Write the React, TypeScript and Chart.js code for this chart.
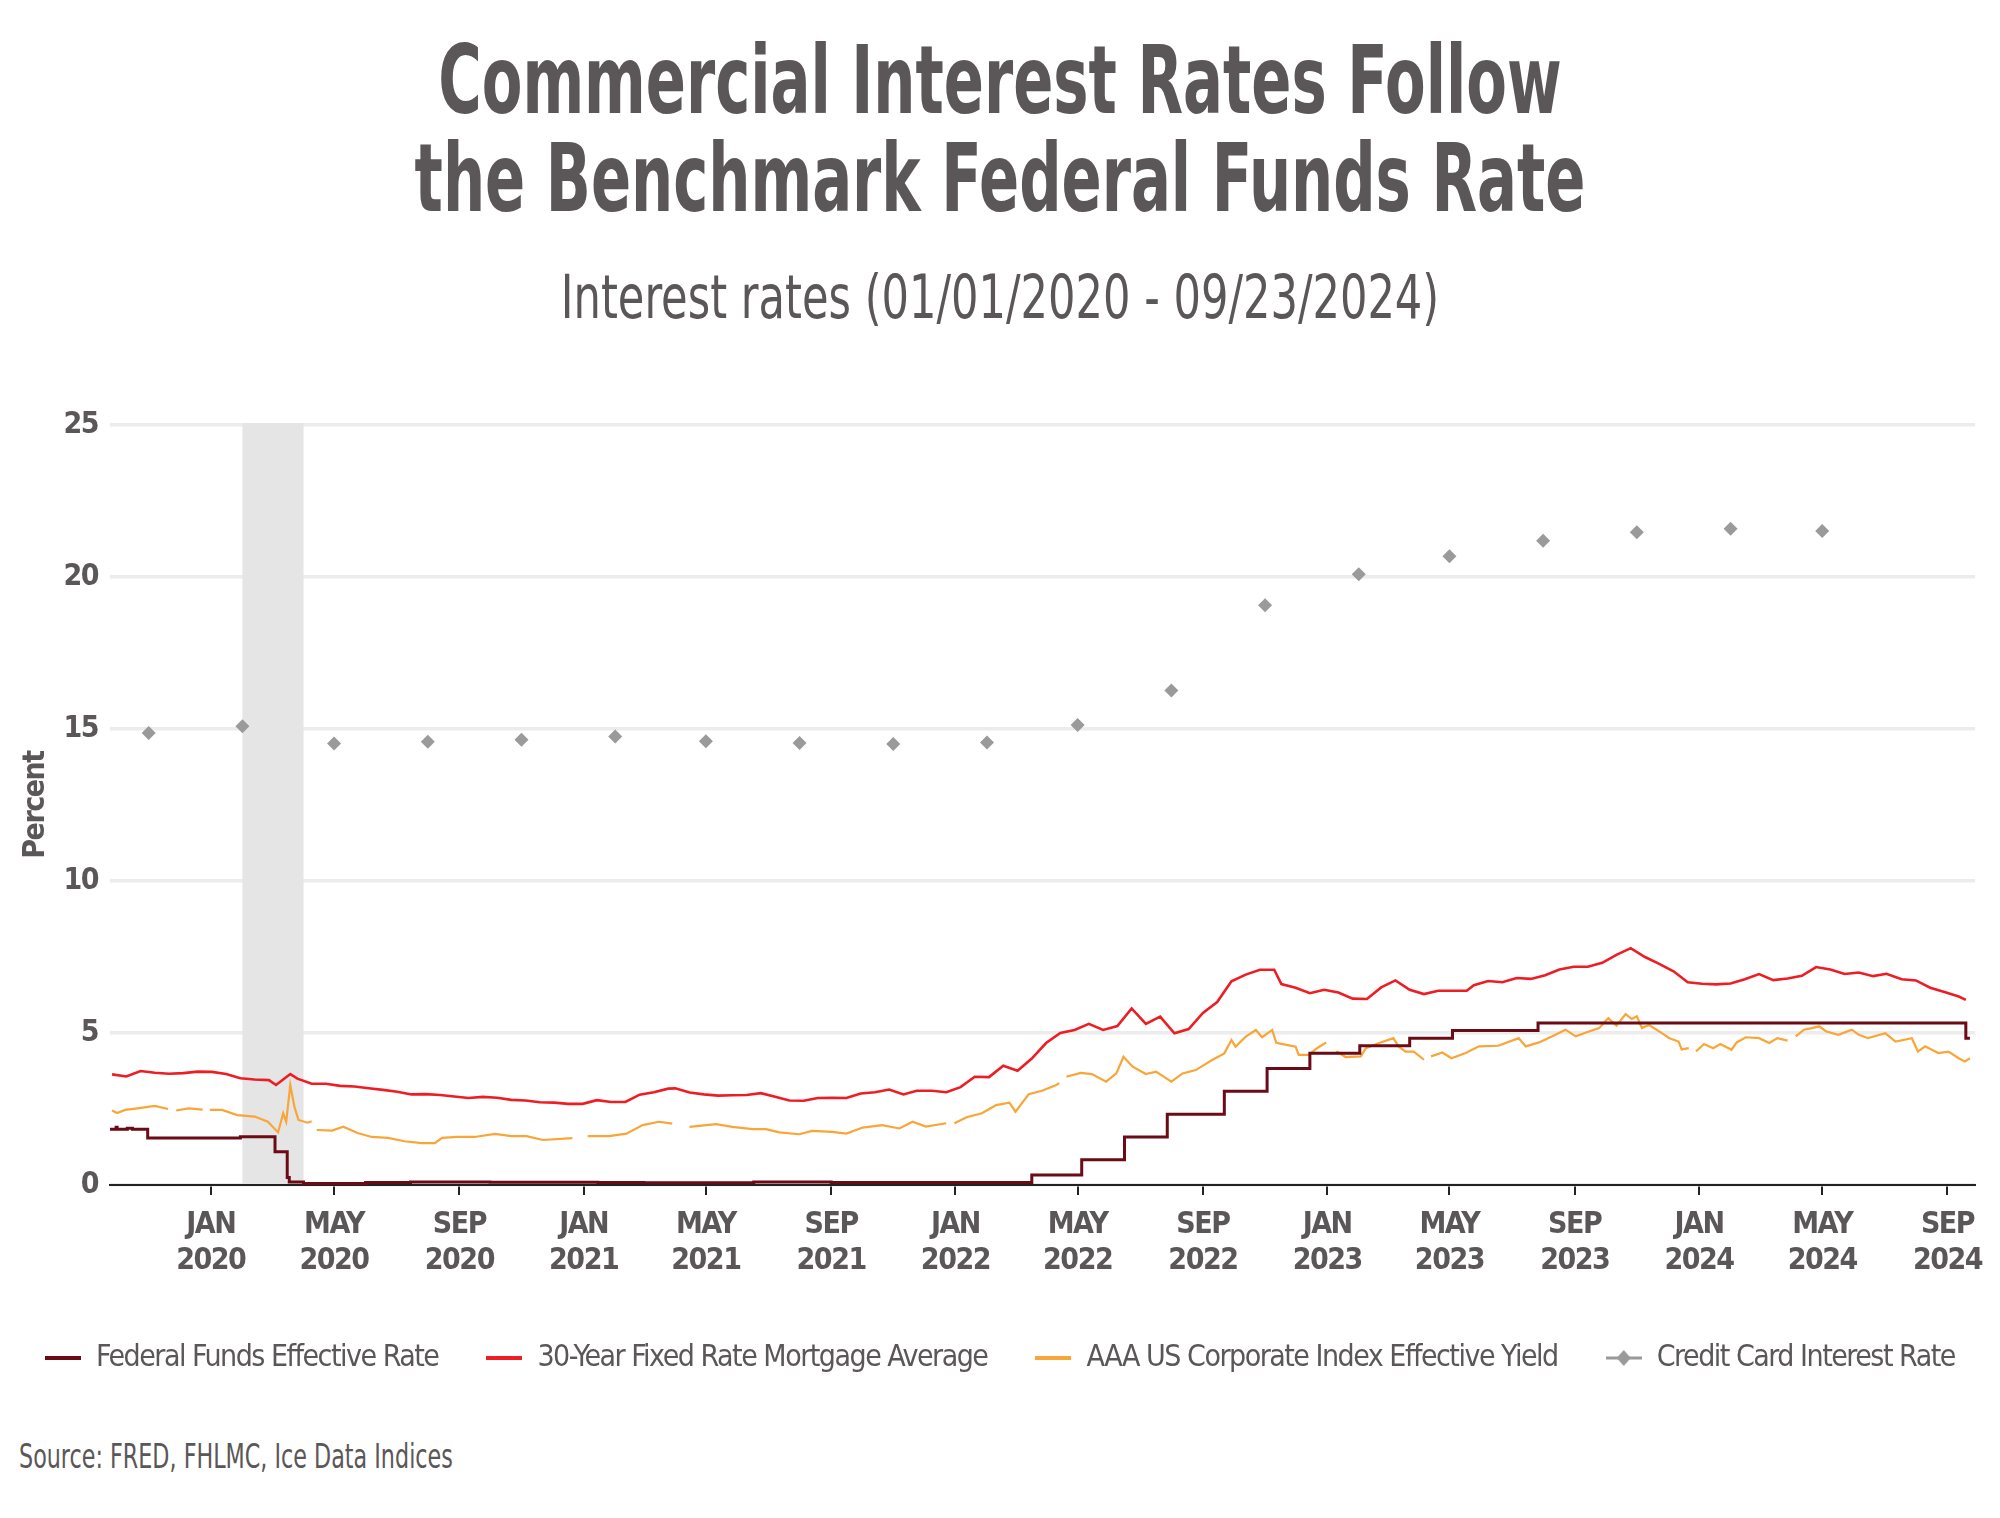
import { useEffect, useRef } from "react";
import { Chart, registerables } from "chart.js";

Chart.register(...registerables);

const NARROW = '"DejaVu Sans Condensed", "DejaVu Sans", sans-serif';
const TEXT = "#5b5758";

// x axis range and ticks
const xStart = "2019-09-24";
const xEnd = "2024-09-28";
const tickDates = [
  "2020-01-01", "2020-05-01", "2020-09-01", "2021-01-01", "2021-05-01", "2021-09-01",
  "2022-01-01", "2022-05-01", "2022-09-01", "2023-01-01", "2023-05-01", "2023-09-01",
  "2024-01-01", "2024-05-01", "2024-09-01",
];
const MONTHS = ["JAN", "FEB", "MAR", "APR", "MAY", "JUN", "JUL", "AUG", "SEP", "OCT", "NOV", "DEC"];
const recession = ["2020-02-01", "2020-04-01"];

// Federal funds effective rate (value holds from the date on)
const fedFunds: [string, number][] = [
  ["2019-09-24", 1.83], ["2019-09-30", 1.9], ["2019-10-01", 1.83], ["2019-10-11", 1.87], ["2019-10-16", 1.83],
  ["2019-10-31", 1.55], ["2020-01-30", 1.59], ["2020-03-04", 1.09], ["2020-03-16", 0.25], ["2020-03-18", 0.1],
  ["2020-04-01", 0.05], ["2020-06-01", 0.08], ["2020-07-15", 0.1], ["2020-10-01", 0.09], ["2021-01-15", 0.08],
  ["2021-03-01", 0.07], ["2021-06-17", 0.1], ["2021-09-01", 0.08], ["2022-03-17", 0.33], ["2022-05-05", 0.83],
  ["2022-06-16", 1.58], ["2022-07-28", 2.33], ["2022-09-22", 3.08], ["2022-11-03", 3.83], ["2022-12-15", 4.33],
  ["2023-02-02", 4.58], ["2023-03-23", 4.83], ["2023-05-04", 5.08], ["2023-07-27", 5.33], ["2024-09-19", 4.83],
  ["2024-09-23", 4.83],
];

// 30-year fixed mortgage average
const mortgage: [string, number][] = [
  ["2019-09-26", 3.64], ["2019-10-10", 3.57], ["2019-10-24", 3.75], ["2019-11-07", 3.69], ["2019-11-21", 3.66],
  ["2019-12-05", 3.68], ["2019-12-19", 3.73], ["2020-01-02", 3.72], ["2020-01-16", 3.65], ["2020-01-30", 3.51],
  ["2020-02-13", 3.47], ["2020-02-27", 3.45], ["2020-03-05", 3.29], ["2020-03-19", 3.65], ["2020-03-26", 3.5],
  ["2020-04-09", 3.33], ["2020-04-23", 3.33], ["2020-05-07", 3.26], ["2020-05-21", 3.24], ["2020-06-04", 3.18],
  ["2020-06-18", 3.13], ["2020-07-02", 3.07], ["2020-07-16", 2.98], ["2020-07-30", 2.99], ["2020-08-13", 2.96],
  ["2020-08-27", 2.91], ["2020-09-10", 2.86], ["2020-09-24", 2.9], ["2020-10-08", 2.87], ["2020-10-22", 2.8],
  ["2020-11-05", 2.78], ["2020-11-19", 2.72], ["2020-12-03", 2.71], ["2020-12-17", 2.67], ["2020-12-31", 2.67],
  ["2021-01-14", 2.79], ["2021-01-28", 2.73], ["2021-02-11", 2.73], ["2021-02-25", 2.97], ["2021-03-11", 3.05],
  ["2021-03-25", 3.17], ["2021-04-01", 3.18], ["2021-04-15", 3.04], ["2021-04-29", 2.98], ["2021-05-13", 2.94],
  ["2021-05-27", 2.95], ["2021-06-10", 2.96], ["2021-06-24", 3.02], ["2021-07-08", 2.9], ["2021-07-22", 2.78],
  ["2021-08-05", 2.77], ["2021-08-19", 2.86], ["2021-09-02", 2.87], ["2021-09-16", 2.86], ["2021-09-30", 3.01],
  ["2021-10-14", 3.05], ["2021-10-28", 3.14], ["2021-11-11", 2.98], ["2021-11-24", 3.1], ["2021-12-09", 3.1],
  ["2021-12-23", 3.05], ["2022-01-06", 3.22], ["2022-01-20", 3.56], ["2022-02-03", 3.55], ["2022-02-17", 3.92],
  ["2022-03-03", 3.76], ["2022-03-17", 4.16], ["2022-03-31", 4.67], ["2022-04-14", 5.0], ["2022-04-28", 5.1],
  ["2022-05-12", 5.3], ["2022-05-26", 5.1], ["2022-06-09", 5.23], ["2022-06-23", 5.81], ["2022-07-07", 5.3],
  ["2022-07-21", 5.54], ["2022-08-04", 4.99], ["2022-08-18", 5.13], ["2022-09-01", 5.66], ["2022-09-15", 6.02],
  ["2022-09-29", 6.7], ["2022-10-13", 6.92], ["2022-10-27", 7.08], ["2022-11-10", 7.08], ["2022-11-17", 6.61],
  ["2022-12-01", 6.49], ["2022-12-15", 6.31], ["2022-12-29", 6.42], ["2023-01-12", 6.33], ["2023-01-26", 6.13],
  ["2023-02-09", 6.12], ["2023-02-23", 6.5], ["2023-03-09", 6.73], ["2023-03-23", 6.42], ["2023-04-06", 6.28],
  ["2023-04-20", 6.39], ["2023-05-04", 6.39], ["2023-05-18", 6.39], ["2023-05-25", 6.57], ["2023-06-08", 6.71],
  ["2023-06-22", 6.67], ["2023-07-06", 6.81], ["2023-07-20", 6.78], ["2023-08-03", 6.9], ["2023-08-17", 7.09],
  ["2023-08-31", 7.18], ["2023-09-14", 7.18], ["2023-09-28", 7.31], ["2023-10-12", 7.57], ["2023-10-26", 7.79],
  ["2023-11-09", 7.5], ["2023-11-22", 7.29], ["2023-12-07", 7.03], ["2023-12-21", 6.67], ["2024-01-04", 6.62],
  ["2024-01-18", 6.6], ["2024-02-01", 6.63], ["2024-02-15", 6.77], ["2024-02-29", 6.94], ["2024-03-14", 6.74],
  ["2024-03-28", 6.79], ["2024-04-11", 6.88], ["2024-04-25", 7.17], ["2024-05-09", 7.09], ["2024-05-23", 6.94],
  ["2024-06-06", 6.99], ["2024-06-20", 6.87], ["2024-07-03", 6.95], ["2024-07-18", 6.77], ["2024-08-01", 6.73],
  ["2024-08-15", 6.49], ["2024-08-29", 6.35], ["2024-09-12", 6.2], ["2024-09-19", 6.09],
];

// AAA US corporate index effective yield (null = missing days)
const aaaYield: [string, number | null][] = [
  ["2019-09-26", 2.45], ["2019-10-01", 2.37], ["2019-10-09", 2.47], ["2019-10-21", 2.52], ["2019-11-07", 2.6],
  ["2019-11-20", 2.5], ["2019-11-24", null], ["2019-11-28", 2.45], ["2019-12-10", 2.52], ["2019-12-24", 2.48],
  ["2019-12-27", null], ["2019-12-31", 2.47], ["2020-01-12", 2.47], ["2020-01-27", 2.3], ["2020-02-13", 2.25],
  ["2020-02-26", 2.08], ["2020-03-07", 1.73], ["2020-03-12", 2.36], ["2020-03-15", 2.08], ["2020-03-19", 3.29],
  ["2020-03-23", 2.58], ["2020-03-27", 2.14], ["2020-04-05", 2.05], ["2020-04-09", 2.1], ["2020-04-10", null],
  ["2020-04-14", 1.81], ["2020-04-29", 1.79], ["2020-05-10", 1.92], ["2020-05-24", 1.71], ["2020-06-07", 1.58],
  ["2020-06-23", 1.55], ["2020-07-09", 1.44], ["2020-07-26", 1.38], ["2020-08-08", 1.38], ["2020-08-15", 1.55],
  ["2020-08-30", 1.58], ["2020-09-16", 1.58], ["2020-10-06", 1.68], ["2020-10-22", 1.61], ["2020-11-06", 1.61],
  ["2020-11-22", 1.48], ["2020-12-21", 1.54], ["2020-12-26", null], ["2021-01-05", 1.61], ["2021-01-26", 1.61],
  ["2021-02-12", 1.69], ["2021-02-28", 1.97], ["2021-03-16", 2.08], ["2021-03-29", 2.02], ["2021-04-02", null],
  ["2021-04-15", 1.91], ["2021-05-11", 2.0], ["2021-05-27", 1.91], ["2021-06-16", 1.84], ["2021-06-29", 1.84],
  ["2021-07-12", 1.73], ["2021-08-01", 1.67], ["2021-08-13", 1.78], ["2021-09-02", 1.75], ["2021-09-16", 1.69],
  ["2021-10-02", 1.89], ["2021-10-21", 1.97], ["2021-11-07", 1.86], ["2021-11-20", 2.08], ["2021-12-03", 1.92],
  ["2021-12-23", 2.03], ["2021-12-27", null], ["2021-12-31", 2.03], ["2022-01-12", 2.23], ["2022-01-27", 2.36],
  ["2022-02-10", 2.63], ["2022-02-23", 2.71], ["2022-03-01", 2.41], ["2022-03-14", 2.99], ["2022-03-27", 3.1],
  ["2022-04-10", 3.29], ["2022-04-13", 3.35], ["2022-04-15", null], ["2022-04-20", 3.56], ["2022-05-04", 3.69],
  ["2022-05-15", 3.65], ["2022-05-29", 3.4], ["2022-06-08", 3.67], ["2022-06-15", 4.22], ["2022-06-24", 3.89],
  ["2022-07-07", 3.65], ["2022-07-17", 3.73], ["2022-08-01", 3.4], ["2022-08-12", 3.67], ["2022-08-25", 3.78],
  ["2022-09-10", 4.11], ["2022-09-22", 4.33], ["2022-09-29", 4.77], ["2022-10-03", 4.55], ["2022-10-13", 4.88],
  ["2022-10-23", 5.1], ["2022-10-29", 4.86], ["2022-11-08", 5.1], ["2022-11-12", 4.68], ["2022-11-22", 4.61],
  ["2022-12-01", 4.55], ["2022-12-04", 4.28], ["2022-12-14", 4.28], ["2022-12-22", 4.5], ["2022-12-31", 4.69],
  ["2023-01-02", null], ["2023-01-10", 4.4], ["2023-01-19", 4.21], ["2023-02-03", 4.23], ["2023-02-08", 4.5],
  ["2023-02-21", 4.67], ["2023-03-07", 4.83], ["2023-03-12", 4.56], ["2023-03-19", 4.39], ["2023-03-27", 4.39],
  ["2023-04-06", 4.12], ["2023-04-07", null], ["2023-04-13", 4.23], ["2023-04-24", 4.36], ["2023-05-03", 4.17],
  ["2023-05-17", 4.34], ["2023-05-30", 4.56], ["2023-06-18", 4.58], ["2023-07-08", 4.83], ["2023-07-15", 4.56],
  ["2023-07-28", 4.69], ["2023-08-10", 4.89], ["2023-08-23", 5.11], ["2023-09-02", 4.89], ["2023-09-15", 5.05],
  ["2023-09-25", 5.16], ["2023-10-04", 5.49], ["2023-10-12", 5.24], ["2023-10-21", 5.62], ["2023-10-27", 5.46],
  ["2023-11-01", 5.55], ["2023-11-06", 5.16], ["2023-11-13", 5.26], ["2023-11-26", 4.99], ["2023-12-03", 4.83],
  ["2023-12-12", 4.72], ["2023-12-15", 4.46], ["2023-12-22", 4.5], ["2023-12-25", null], ["2023-12-29", 4.39],
  ["2024-01-06", 4.64], ["2024-01-15", 4.5], ["2024-01-22", 4.64], ["2024-02-02", 4.45], ["2024-02-07", 4.69],
  ["2024-02-16", 4.86], ["2024-02-29", 4.83], ["2024-03-10", 4.67], ["2024-03-18", 4.83], ["2024-03-28", 4.75],
  ["2024-03-31", null], ["2024-04-05", 4.89], ["2024-04-13", 5.11], ["2024-04-21", 5.16], ["2024-04-28", 5.22],
  ["2024-05-05", 5.05], ["2024-05-17", 4.94], ["2024-05-30", 5.11], ["2024-06-06", 4.94], ["2024-06-15", 4.83],
  ["2024-07-02", 4.99], ["2024-07-12", 4.72], ["2024-07-28", 4.83], ["2024-08-03", 4.39], ["2024-08-10", 4.56],
  ["2024-08-23", 4.34], ["2024-09-02", 4.39], ["2024-09-12", 4.17], ["2024-09-18", 4.06], ["2024-09-23", 4.17],
];

// credit card interest rate, quarterly
const creditCard: [string, number][] = [
  ["2019-11-01", 14.87], ["2020-02-01", 15.09], ["2020-05-01", 14.52], ["2020-08-01", 14.58], ["2020-11-01", 14.65],
  ["2021-02-01", 14.75], ["2021-05-01", 14.6], ["2021-08-01", 14.54], ["2021-11-01", 14.51], ["2022-02-01", 14.56],
  ["2022-05-01", 15.13], ["2022-08-01", 16.27], ["2022-11-01", 19.07], ["2023-02-01", 20.09], ["2023-05-01", 20.68],
  ["2023-08-01", 21.19], ["2023-11-01", 21.47], ["2024-02-01", 21.59], ["2024-05-01", 21.51],
];

const day = (s: string) => Date.UTC(+s.slice(0, 4), +s.slice(5, 7) - 1, +s.slice(8, 10)) / 86400000;
const pts = (rows: [string, number | null][]) => rows.map(([d, v]) => ({ x: day(d), y: v }));

const recessionBand = {
  id: "recessionBand",
  beforeDatasetsDraw(chart: any) {
    const { ctx, scales } = chart;
    const x0 = scales.x.getPixelForValue(day(recession[0]));
    const x1 = scales.x.getPixelForValue(day(recession[1]));
    const y0 = scales.y.getPixelForValue(25);
    const y1 = scales.y.getPixelForValue(0);
    ctx.save();
    ctx.fillStyle = "#e5e5e5";
    ctx.fillRect(x0, y0 - 2, x1 - x0, y1 - y0 + 1);
    ctx.restore();
  },
};

// tighter letters so the condensed fallback font sits closer to the original
const tightText = {
  id: "tightText",
  beforeUpdate(chart: any) { chart.ctx.letterSpacing = "-1.5px"; },
  beforeDraw(chart: any) { chart.ctx.letterSpacing = "-1.5px"; },
};

function lineMarker(color: string, thickness: number) {
  const c = document.createElement("canvas");
  c.width = 36;
  c.height = 20;
  const g = c.getContext("2d");
  if (g) {
    g.fillStyle = color;
    g.fillRect(0, 10 - thickness / 2, 36, thickness);
  }
  return c;
}

function diamondMarker(color: string) {
  const c = document.createElement("canvas");
  c.width = 36;
  c.height = 20;
  const g = c.getContext("2d");
  if (g) {
    g.fillStyle = color;
    g.fillRect(0, 8.5, 36, 3);
    g.beginPath();
    g.moveTo(18, 2);
    g.lineTo(25, 10);
    g.lineTo(18, 18);
    g.lineTo(11, 10);
    g.closePath();
    g.fill();
  }
  return c;
}

function RatesChart() {
  const canvasRef = useRef<HTMLCanvasElement>(null);
  const chartRef = useRef<Chart | null>(null);

  useEffect(() => {
    if (!canvasRef.current) return;
    if (chartRef.current) chartRef.current.destroy();
    const markers = [lineMarker("#6b0b16", 4), lineMarker("#ee1d23", 4), lineMarker("#f9a537", 4), diamondMarker("#9a9a9a")];

    chartRef.current = new Chart(canvasRef.current, {
      type: "line",
      data: {
        datasets: [
          { label: "Federal Funds Effective Rate", data: pts(fedFunds), borderColor: "#6b0b16", borderWidth: 3, stepped: "before", pointRadius: 0 },
          { label: "30-Year Fixed Rate Mortgage Average", data: pts(mortgage), borderColor: "#ee1d23", borderWidth: 2.6, pointRadius: 0 },
          { label: "AAA US Corporate Index Effective Yield", data: pts(aaaYield), borderColor: "#f9a537", borderWidth: 2.2, pointRadius: 0, spanGaps: false },
          { label: "Credit Card Interest Rate", data: pts(creditCard), showLine: false, pointStyle: "rectRot", pointRadius: 7, backgroundColor: "#9a9a9a", borderWidth: 0 },
        ] as any,
      },
      options: {
        responsive: false,
        animation: false,
        events: [],
        layout: { padding: { top: 45, right: 0, left: 0, bottom: 0 } },
        plugins: {
          tooltip: { enabled: false },
          legend: {
            position: "bottom",
            labels: {
              usePointStyle: true,
              pointStyleWidth: 36,
              padding: 48,
              color: TEXT,
              font: { family: NARROW, size: 30 },
              generateLabels: (chart: any) =>
                chart.data.datasets.map((ds: any, i: number) => ({
                  text: ds.label,
                  pointStyle: markers[i],
                  fillStyle: "transparent",
                  strokeStyle: "transparent",
                  lineWidth: 0,
                  hidden: false,
                  datasetIndex: i,
                  fontColor: TEXT,
                })),
            },
          },
        },
        scales: {
          x: {
            type: "linear",
            min: day(xStart),
            max: day(xEnd),
            afterBuildTicks: (s: any) => { s.ticks = tickDates.map((d) => ({ value: day(d) })); },
            afterFit: (s: any) => { s.height = 110; },
            grid: { drawOnChartArea: false, drawTicks: true, tickLength: 10, tickColor: "#222", tickWidth: 2, lineWidth: 2 },
            border: { display: true, color: "#222", width: 2 },
            ticks: {
              autoSkip: false,
              maxRotation: 0,
              padding: 12,
              color: TEXT,
              font: { family: NARROW, size: 30, weight: "bold", lineHeight: 1.2 },
              callback: (value: any) => {
                const dt = new Date(Number(value) * 86400000);
                return [MONTHS[dt.getUTCMonth()], String(dt.getUTCFullYear())];
              },
            },
          },
          y: {
            min: 0,
            max: 25,
            afterFit: (s: any) => { s.width = 150; },
            grid: { color: "#ececec", lineWidth: 3.5, drawTicks: false },
            border: { display: false },
            ticks: { stepSize: 5, padding: 12, color: TEXT, font: { family: NARROW, size: 30, weight: "bold" } },
            title: { display: true, text: "Percent", color: TEXT, padding: { top: 58, bottom: 0 }, font: { family: NARROW, size: 30, weight: "bold" } },
          },
          // empty right-hand axis, only keeps a margin right of the plot
          yRight: {
            type: "linear",
            position: "right",
            min: 0,
            max: 1,
            afterFit: (s: any) => { s.width = 65; },
            grid: { display: false },
            border: { display: false },
            ticks: { display: false },
          },
        },
      },
      plugins: [tightText, recessionBand],
    });

    return () => { if (chartRef.current) chartRef.current.destroy(); };
  }, []);

  return <canvas ref={canvasRef} width={2080} height={1003} style={{ position: "absolute", left: -40, top: 380 }} />;
}

export default function App() {
  useEffect(() => { document.body.style.margin = "0"; }, []);
  return (
    <div style={{ position: "relative", width: 2000, height: 1518, overflow: "hidden", background: "#fff", fontFamily: NARROW, color: TEXT }}>
      <div style={{ position: "absolute", left: 0, top: 32, width: 2000, textAlign: "center", fontSize: 94, lineHeight: "98px", fontWeight: 700, transform: "scaleX(0.70)" }}>
        Commercial Interest Rates Follow
        <br />
        the Benchmark Federal Funds Rate
      </div>
      <div style={{ position: "absolute", left: 0, top: 267, width: 2000, textAlign: "center", fontSize: 60, lineHeight: "60px", transform: "scaleX(0.80)" }}>
        Interest rates (01/01/2020 - 09/23/2024)
      </div>
      <RatesChart />
      <div style={{ position: "absolute", left: 19, top: 1440, fontSize: 33, lineHeight: "33px", whiteSpace: "nowrap", transform: "scaleX(0.75)", transformOrigin: "left center" }}>
        Source: FRED, FHLMC, Ice Data Indices
      </div>
    </div>
  );
}
